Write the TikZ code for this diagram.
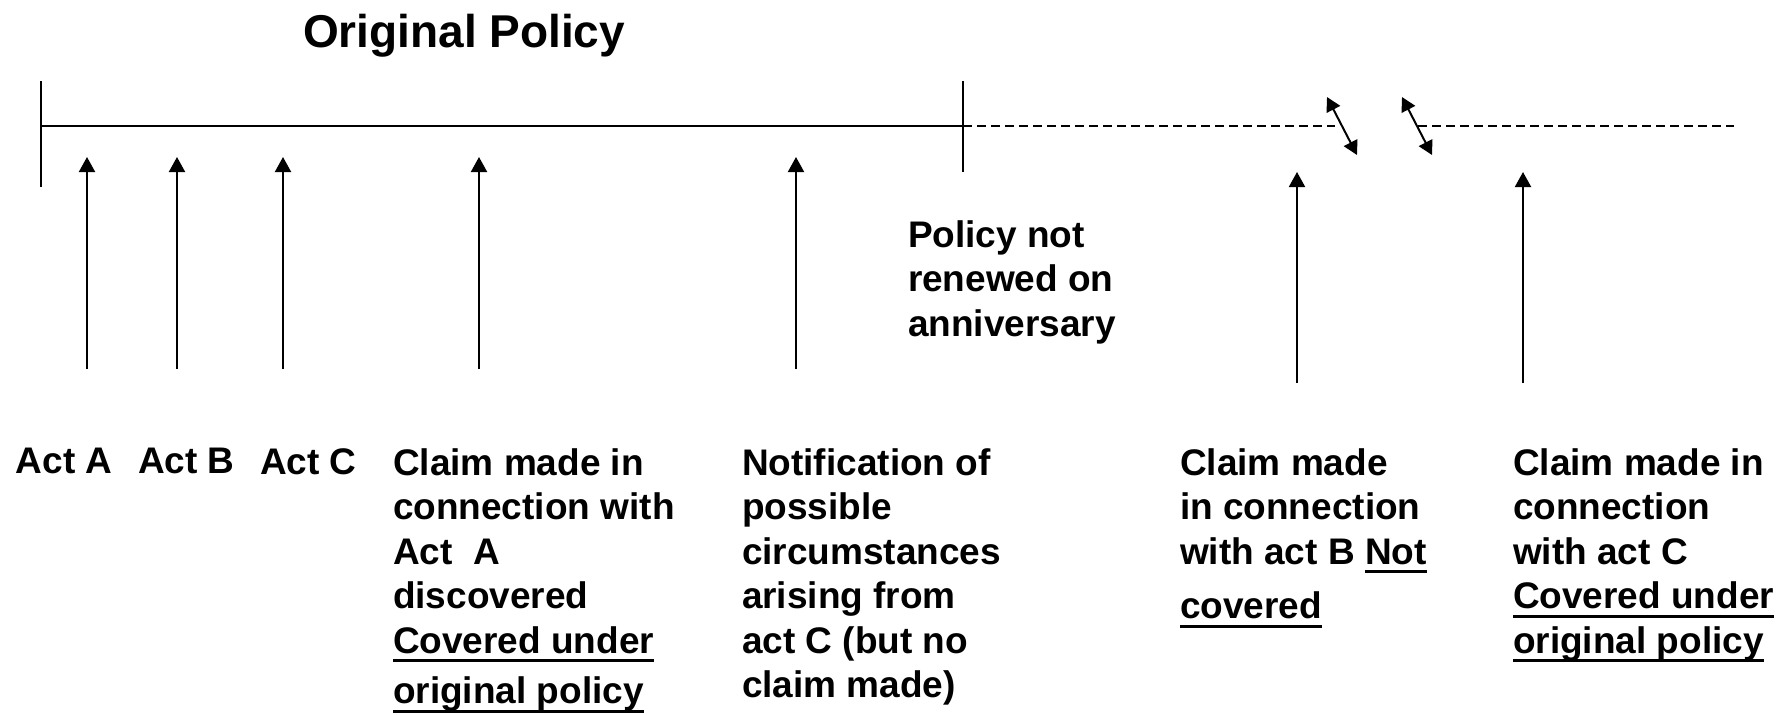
\documentclass[tikz,border=0pt]{standalone}
\usepackage{fontspec}
\setmainfont{Liberation Sans}
\usepackage{tikz}
\usetikzlibrary{arrows.meta}

\newcommand\undl[1]{{\setbox0\hbox{#1}\rlap{\rule[-4.5pt]{\wd0}{1.5pt}}\box0}}

\begin{document}
\begin{tikzpicture}[
      x=0.5pt, y=-0.5pt,
      every node/.style={inner sep=0pt, outer sep=0pt},
      lbl/.style={anchor=north west, align=left,
        font=\fontsize{18.5pt}{22.25pt}\selectfont\bfseries},
      ttl/.style={anchor=base west, font=\fontsize{23pt}{27pt}\selectfont\bfseries},
      axis/.style={line width=1pt, draw=black},
      tick/.style={line width=1.1pt, draw=black},
      lapsed/.style={line width=1pt, draw=black, dash pattern=on 4.5pt off 2.5pt},
      uparr/.style={line width=1pt, -{Triangle[length=7.5pt, width=8pt]}},
      brk/.style={line width=1pt, {Triangle[length=7pt, width=7.5pt]}-{Triangle[length=7pt, width=7.5pt]}}
    ]
      \useasboundingbox (0,0) rectangle (1789,714);

      \node[ttl] (title) at (303,47) {Original Policy};

      \coordinate (start) at (41,126);
      \coordinate (renew) at (963,126);
      \coordinate (gapl) at (1335,126);
      \coordinate (gapr) at (1418,126);
      \coordinate (stop) at (1734,126);
      \draw[axis] (start) -- (renew);
      \draw[lapsed] (renew) -- (gapl);
      \draw[lapsed] (gapr) -- (stop);
      \coordinate (starttop) at (41,81);
      \coordinate (startbot) at (41,187);
      \coordinate (renewtop) at (963,81);
      \coordinate (renewbot) at (963,172);
      \draw[tick] (starttop) -- (startbot);
      \draw[tick] (renewtop) -- (renewbot);

      \coordinate (b1a) at (1327,97);
      \coordinate (b1b) at (1357,155);
      \coordinate (b2a) at (1402,97);
      \coordinate (b2b) at (1432,155);
      \draw[brk] (b1a) -- (b1b);
      \draw[brk] (b2a) -- (b2b);

      \foreach \x/\n in {87/acta, 177/actb, 283/actc, 479/claima, 796/notif} {
        \coordinate (foot\n) at (\x,369);
        \coordinate (tip\n) at (\x,157);
        \draw[uparr] (foot\n) -- (tip\n);
      }
      \foreach \x/\n in {1297/claimb, 1523/claimc} {
        \coordinate (foot\n) at (\x,383);
        \coordinate (tip\n) at (\x,172);
        \draw[uparr] (foot\n) -- (tip\n);
      }

      \node[lbl] (lapse) at (908,220.5) {Policy not\\renewed on\\anniversary};

      \node[lbl] (txta) at (16,448.5) {Act A};
      \node[lbl] (txtb) at (138,448.5) {Act B};
      \node[lbl] (txtc) at (260,448.5) {Act C};
      \node[lbl] (txtclaima) at (393,448.5) {Claim made in\\connection with\\Act\ \ A\\discovered\\\undl{Covered under}\\[3pt]\undl{original policy}};
      \node[lbl] (txtnotif) at (742,448.5) {Notification of\\possible\\circumstances\\arising from\\act C (but no\\claim made)};
      \node[lbl] (txtclaimb) at (1180,448.5) {Claim made\\in connection\\with act B \undl{Not}\\[5pt]\undl{covered}};
      \node[lbl] (txtclaimc) at (1513,448.5) {Claim made in\\connection\\with act C\\\undl{Covered under}\\\undl{original policy}};
    \end{tikzpicture}
\end{document}
